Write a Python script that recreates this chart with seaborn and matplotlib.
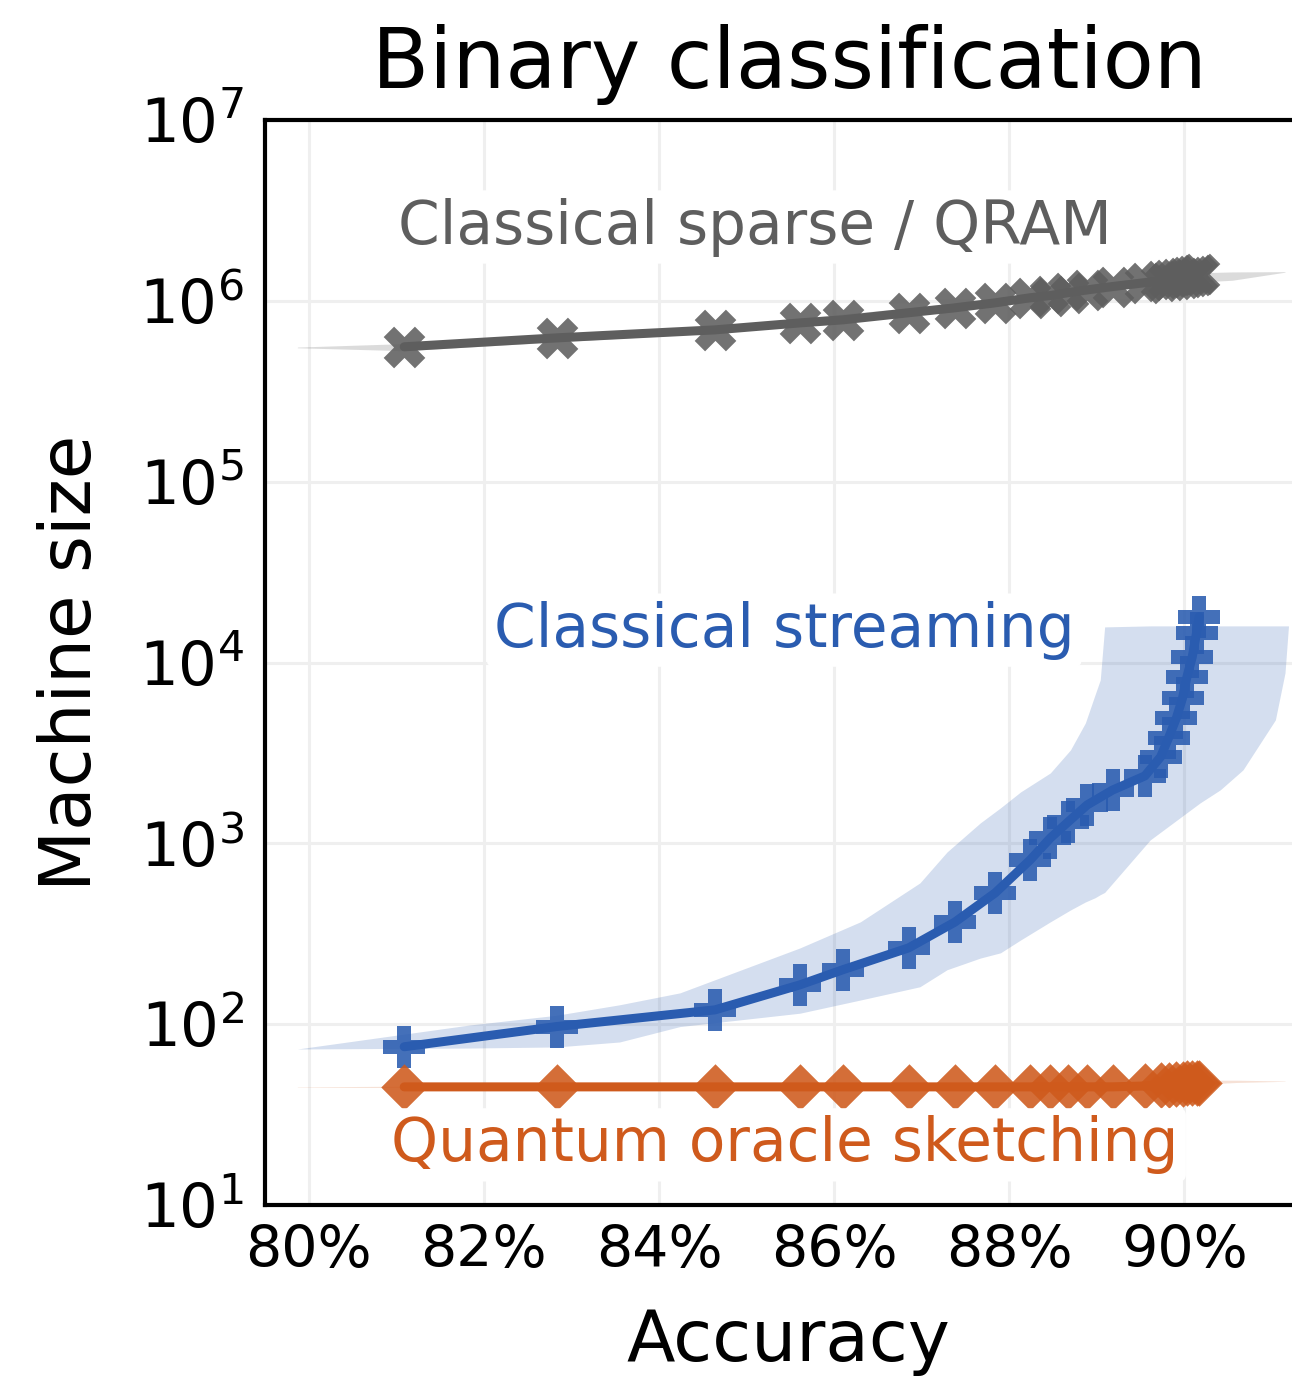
import numpy as np
import pandas as pd
import matplotlib
matplotlib.use("Agg")
import matplotlib.pyplot as plt
import seaborn as sns
from matplotlib.ticker import LogLocator, FuncFormatter, NullLocator, LogFormatterSciNotation

# ---------------- data ----------------
accuracy = [81.09, 82.83, 84.64, 85.61, 86.10, 86.85, 87.38, 87.84, 88.24, 88.47,
            88.67, 88.89, 89.18, 89.55, 89.73, 89.82, 89.91, 89.98, 90.03, 90.09,
            90.14, 90.17]
qram_size = [5.57e5, 6.24e5, 6.91e5, 7.55e5, 7.85e5, 8.59e5, 9.15e5, 9.75e5, 1.04e6, 1.07e6,
             1.11e6, 1.15e6, 1.20e6, 1.26e6, 1.29e6, 1.31e6, 1.32e6, 1.34e6, 1.36e6, 1.38e6,
             1.39e6, 1.41e6]
streaming_size = [75, 97, 120, 165, 200, 264, 367, 532, 810, 1070,
                  1310, 1630, 1970, 2360, 3010, 3830, 4940, 6370, 8320, 10700,
                  14600, 17900]
quantum_size = [45, 45, 45, 45, 45, 45, 45, 45, 45, 45,
                45, 45, 45, 45.5, 46, 46, 46.5, 46.5, 47, 47,
                47.3, 47.5]

# shaded bands (accuracy, lower, upper)
qram_band_x = [79.87, 81.09, 84.64, 87.84, 89.55, 90.17, 90.55, 91.15]
qram_band_lo = [5.50e5, 5.30e5, 6.65e5, 9.30e5, 1.20e6, 1.27e6, 1.30e6, 1.44e6]
qram_band_hi = [5.55e5, 5.80e5, 7.20e5, 1.02e6, 1.35e6, 1.43e6, 1.445e6, 1.45e6]

stream_band_x = [79.87, 81.84, 82.83, 83.55, 84.24, 85.61, 86.30, 86.98, 87.29, 87.67,
                 87.90, 88.13, 88.47, 88.70, 88.87, 88.98, 89.04, 89.09, 89.61, 90.18,
                 90.41, 90.67, 91.04, 91.15, 91.19]
stream_band_lo = [72.9, 73.8, 74.8, 79.7, 97, 115, 136, 161, 200, 232,
                  248, 292, 368, 428, 474, 500, 520, 535, 1044, 1673,
                  1975, 2547, 4814, 8758, 15940]
stream_band_hi = [72.9, 99, 112, 128, 149, 264, 368, 604, 896, 1297,
                  1570, 1924, 2451, 3286, 4634, 6620, 8013, 15735, 15940, 15940,
                  15940, 15940, 15940, 15940, 15940]

quantum_band_x = [79.87, 81.09, 86.10, 90.17, 90.60, 91.15]
quantum_band_lo = [44.8, 44.6, 44.6, 46.5, 47.6, 48.3]
quantum_band_hi = [45.0, 45.4, 45.4, 49.0, 49.0, 48.5]

x_ticks = [80, 82, 84, 86, 88, 90]

gray = "#5e5e5e"
blue = "#2a5cb0"
orange = "#cf5a1c"

df = pd.DataFrame({
    "accuracy": accuracy * 3,
    "size": qram_size + streaming_size + quantum_size,
    "method": ["qram"] * len(accuracy) + ["stream"] * len(accuracy) + ["quantum"] * len(accuracy),
})

sns.set_style("white")
plt.rcParams["font.family"] = ["DejaVu Sans"]
plt.rcParams.update({"text.color": "black", "axes.labelcolor": "black",
                     "xtick.color": "black", "ytick.color": "black"})

fig = plt.figure(figsize=(12.92, 13.78), dpi=100)
ax = fig.add_axes([265 / 1292, 1 - 1205 / 1378, (1292 - 265) / 1292, (1205 - 120) / 1378])

# bands
ax.fill_between(qram_band_x, qram_band_lo, qram_band_hi, color=gray, alpha=0.22, lw=0, zorder=1)
ax.fill_between(stream_band_x, stream_band_lo, stream_band_hi, color=blue, alpha=0.2, lw=0, zorder=1)
ax.fill_between(quantum_band_x, quantum_band_lo, quantum_band_hi, color=orange, alpha=0.18, lw=0, zorder=1)

palette = {"qram": gray, "stream": blue, "quantum": orange}
sns.lineplot(data=df, x="accuracy", y="size", hue="method", palette=palette,
             lw=6.5, legend=False, ax=ax, zorder=3, sort=False)

for meth, mk, s in [("qram", "X", 900), ("stream", "P", 880), ("quantum", "D", 560)]:
    sub = df[df["method"] == meth]
    sns.scatterplot(data=sub, x="accuracy", y="size", color=palette[meth], marker=mk,
                    s=s, alpha=0.88, linewidth=0, ax=ax, zorder=4, legend=False)

ax.set_yscale("log")
ax.set_xlim(79.5, 91.23)
ax.set_ylim(10, 1e7)

ax.set_xticks(x_ticks)
ax.xaxis.set_major_formatter(FuncFormatter(lambda v, p: f"{v:.0f}%"))
ax.xaxis.set_minor_locator(NullLocator())
ax.yaxis.set_major_locator(LogLocator(base=10, numticks=20))
ax.yaxis.set_minor_locator(LogLocator(base=10, subs=np.arange(2, 10), numticks=20))
ax.yaxis.set_major_formatter(LogFormatterSciNotation())

ax.grid(True, which="major", color="#efefef", lw=2.2, zorder=0)
ax.set_axisbelow(True)

for side in ["left", "top", "bottom"]:
    ax.spines[side].set_linewidth(3)
    ax.spines[side].set_color("black")
ax.spines["right"].set_visible(False)

ax.tick_params(axis="both", which="major", direction="in", length=13, width=2.4,
               pad=14, colors="black")
ax.tick_params(axis="x", which="major", labelsize=41)
ax.tick_params(axis="y", which="major", labelsize=44, pad=15)
ax.tick_params(axis="y", which="minor", direction="in", length=8, width=2.2)
ax.tick_params(top=False, right=False, which="both")

ax.set_xlabel("Accuracy", fontsize=51, labelpad=20)
ax.xaxis.label.set_x(0.51)
ax.set_ylabel("Machine size", fontsize=51, labelpad=24)
ax.text(0.511, 1.0295, "Binary classification", transform=ax.transAxes,
        ha="center", va="baseline", fontsize=60)

bb = dict(boxstyle="round,pad=0.12", fc="white", ec="none")
ax.text(85.10, 2.56e6, "Classical sparse / QRAM", color=gray, fontsize=43,
        ha="center", va="center", bbox=bb, zorder=5)
ax.text(85.43, 1.51e4, "Classical streaming", color=blue, fontsize=43,
        ha="center", va="center", bbox=bb, zorder=5)
ax.text(85.44, 21.5, "Quantum oracle sketching", color=orange, fontsize=43,
        ha="center", va="center", bbox=bb, zorder=5)

fig.savefig("out.png", dpi=100)
